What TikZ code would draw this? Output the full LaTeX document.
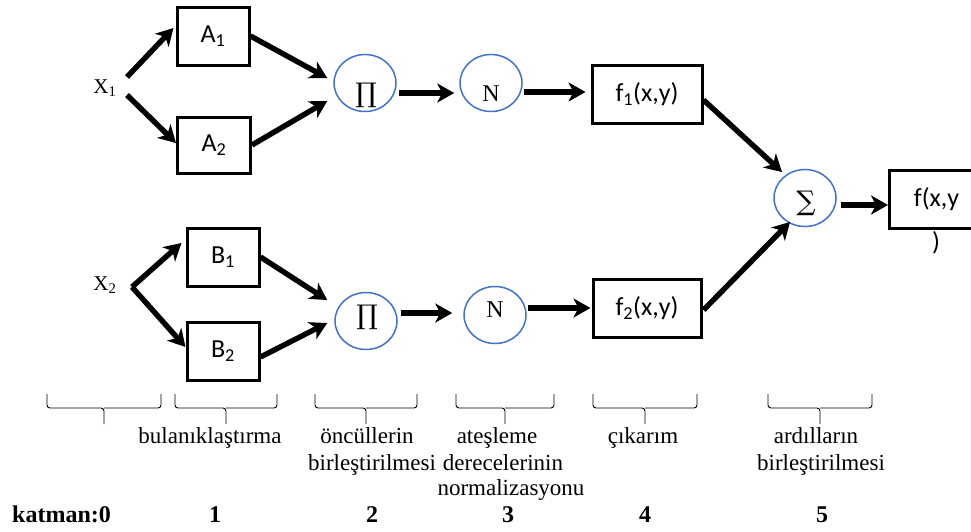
\documentclass[tikz,border=0pt]{standalone}
\usepackage{fontspec}
\setmainfont{Liberation Serif}
\newfontfamily\boxfont{Carlito}
\newfontfamily\symfont{DejaVu Serif}
\usetikzlibrary{arrows.meta,shapes.geometric}
\definecolor{circblue}{RGB}{68,114,196}
\begin{document}
\begin{tikzpicture}[x=1pt,y=-1pt,
  box/.style={draw, line width=3pt, inner sep=0pt, font=\boxfont\fontsize{26}{30}\selectfont},
  circ/.style={draw=circblue, line width=1.5pt, ellipse, minimum width=62pt, minimum height=57pt, inner sep=0pt},
  arr/.style={line width=5.4pt, -{Stealth[length=17pt,width=19pt,inset=5pt]}},
  inp/.style={font=\fontsize{21}{24}\selectfont, inner sep=0pt},
  sym/.style={font=\symfont\fontsize{27}{27}\selectfont, inner sep=0pt},
  nn/.style={font=\fontsize{24}{24}\selectfont, inner sep=0pt},
  lbl/.style={font=\fontsize{23}{25}\selectfont, anchor=base, inner sep=0pt},
  num/.style={font=\bfseries\fontsize{24}{26}\selectfont, anchor=base, inner sep=0pt},
  brc/.style={line width=0.9pt, rounded corners=3pt}
]
\useasboundingbox (0,0) rectangle (971,531);

% inputs
\node[inp] (x1) at (105,88) {X\textsubscript{1}};
\node[inp] (x2) at (105,285) {X\textsubscript{2}};

% layer 1 boxes
\node[box, minimum width=72pt, minimum height=58pt] (a1) at (213,36) {A\textsubscript{1}};
\node[box, minimum width=73pt, minimum height=56pt] (a2) at (214,145) {A\textsubscript{2}};
\node[box, minimum width=72pt, minimum height=58pt] (b1) at (223,257) {B\textsubscript{1}};
\node[box, minimum width=72pt, minimum height=58pt] (b2) at (223,351) {B\textsubscript{2}};

% circles
\node[circ] (p1) at (365,83) {};
\node[circ] (n1) at (491,83) {};
\node[circ] (p2) at (366,321) {};
\node[circ] (n2) at (495,315) {};
\node[circ] (s) at (805,198) {};
\node[sym] (p1t) at (366,95) {∏};
\node[nn] (n1t) at (491,94) {N};
\node[sym] (p2t) at (367,317) {∏};
\node[nn] (n2t) at (495,310) {N};
\node[sym] (st) at (806,203) {∑};

% layer 4 and output boxes
\node[box, minimum width=110pt, minimum height=58pt] (f1) at (647,94) {f\textsubscript{1}(x,y)};
\node[box, minimum width=108pt, minimum height=58pt] (f2) at (647,308) {f\textsubscript{2}(x,y)};
\node[box, minimum width=100pt, minimum height=58pt, anchor=west] (fo) at (888,199) {\hspace*{-6pt}f(x,y};
\node[font=\boxfont\fontsize{26}{30}\selectfont, inner sep=0pt] (fp) at (936,243) {)};

% connectors
\draw[arr] ([shift={(22,-11)}]x1.center) -- ([shift={(-2,-8)}]a1.west);
\draw[arr] ([shift={(22,7)}]x1.center) -- ([shift={(0,-2)}]a2.west);
\draw[arr] (a1.east) -- ([shift={(-6,-5)}]p1.west);
\draw[arr] (a2.east) -- ([shift={(-6,18)}]p1.west);
\draw[arr] ([shift={(27,2)}]x2.center) -- ([shift={(-4,-14)}]b1.west);
\draw[arr] ([shift={(27,2)}]x2.center) -- ([shift={(0,-4)}]b2.west);
\draw[arr] (b1.east) -- ([shift={(-7,-21)}]p2.west);
\draw[arr] ([shift={(0,6)}]b2.east) -- ([shift={(-7,2)}]p2.west);
\draw[arr] ([shift={(2,10)}]p1.east) -- ([shift={(-5,10)}]n1.west);
\draw[arr] ([shift={(1,9)}]n1.east) -- ([shift={(-5,-2)}]f1.west);
\draw[arr] ([shift={(3,-8)}]p2.east) -- ([shift={(-11,-2)}]n2.west);
\draw[arr] ([shift={(1,-7)}]n2.east) -- ([shift={(-1,0)}]f2.west);
\draw[arr] ([shift={(0,6)}]f1.east) -- ([shift={(-23,-26)}]s.center);
\draw[arr] ([shift={(1,2)}]f2.east) -- ([shift={(-15,24)}]s.center);
\draw[arr] ([shift={(4,7)}]s.east) -- ([shift={(0,6)}]fo.west);

% braces
\foreach \xa/\xb in {47/161,175/277,315/417,456/554,593/697,768/872}{
  \pgfmathsetmacro{\xm}{(\xa+\xb)/2}
  \draw[brc] (\xa,394) -- (\xa,408) -- (\xm,408) -- (\xm,424);
  \draw[brc] (\xb,394) -- (\xb,408) -- (\xm,408);
}

% labels
\node[lbl] (l1) at (210,443) {bulanıklaştırma};
\node[lbl] (l2a) at (367,443) {öncüllerin};
\node[lbl] (l2b) at (372,470) {birleştirilmesi};
\node[lbl] (l3a) at (497,443) {ateşleme};
\node[lbl] (l3b) at (503,470) {derecelerinin};
\node[lbl] (l3c) at (511,495) {normalizasyonu};
\node[lbl] (l4) at (643,443) {çıkarım};
\node[lbl] (l5a) at (816,443) {ardılların};
\node[lbl] (l5b) at (821,470) {birleştirilmesi};

% layer numbers
\node[num, anchor=base west] (k0) at (12,522) {katman:0};
\node[num] (k1) at (215,522) {1};
\node[num] (k2) at (372,522) {2};
\node[num] (k3) at (508,522) {3};
\node[num] (k4) at (645,522) {4};
\node[num] (k5) at (822,522) {5};
\end{tikzpicture}
\end{document}
